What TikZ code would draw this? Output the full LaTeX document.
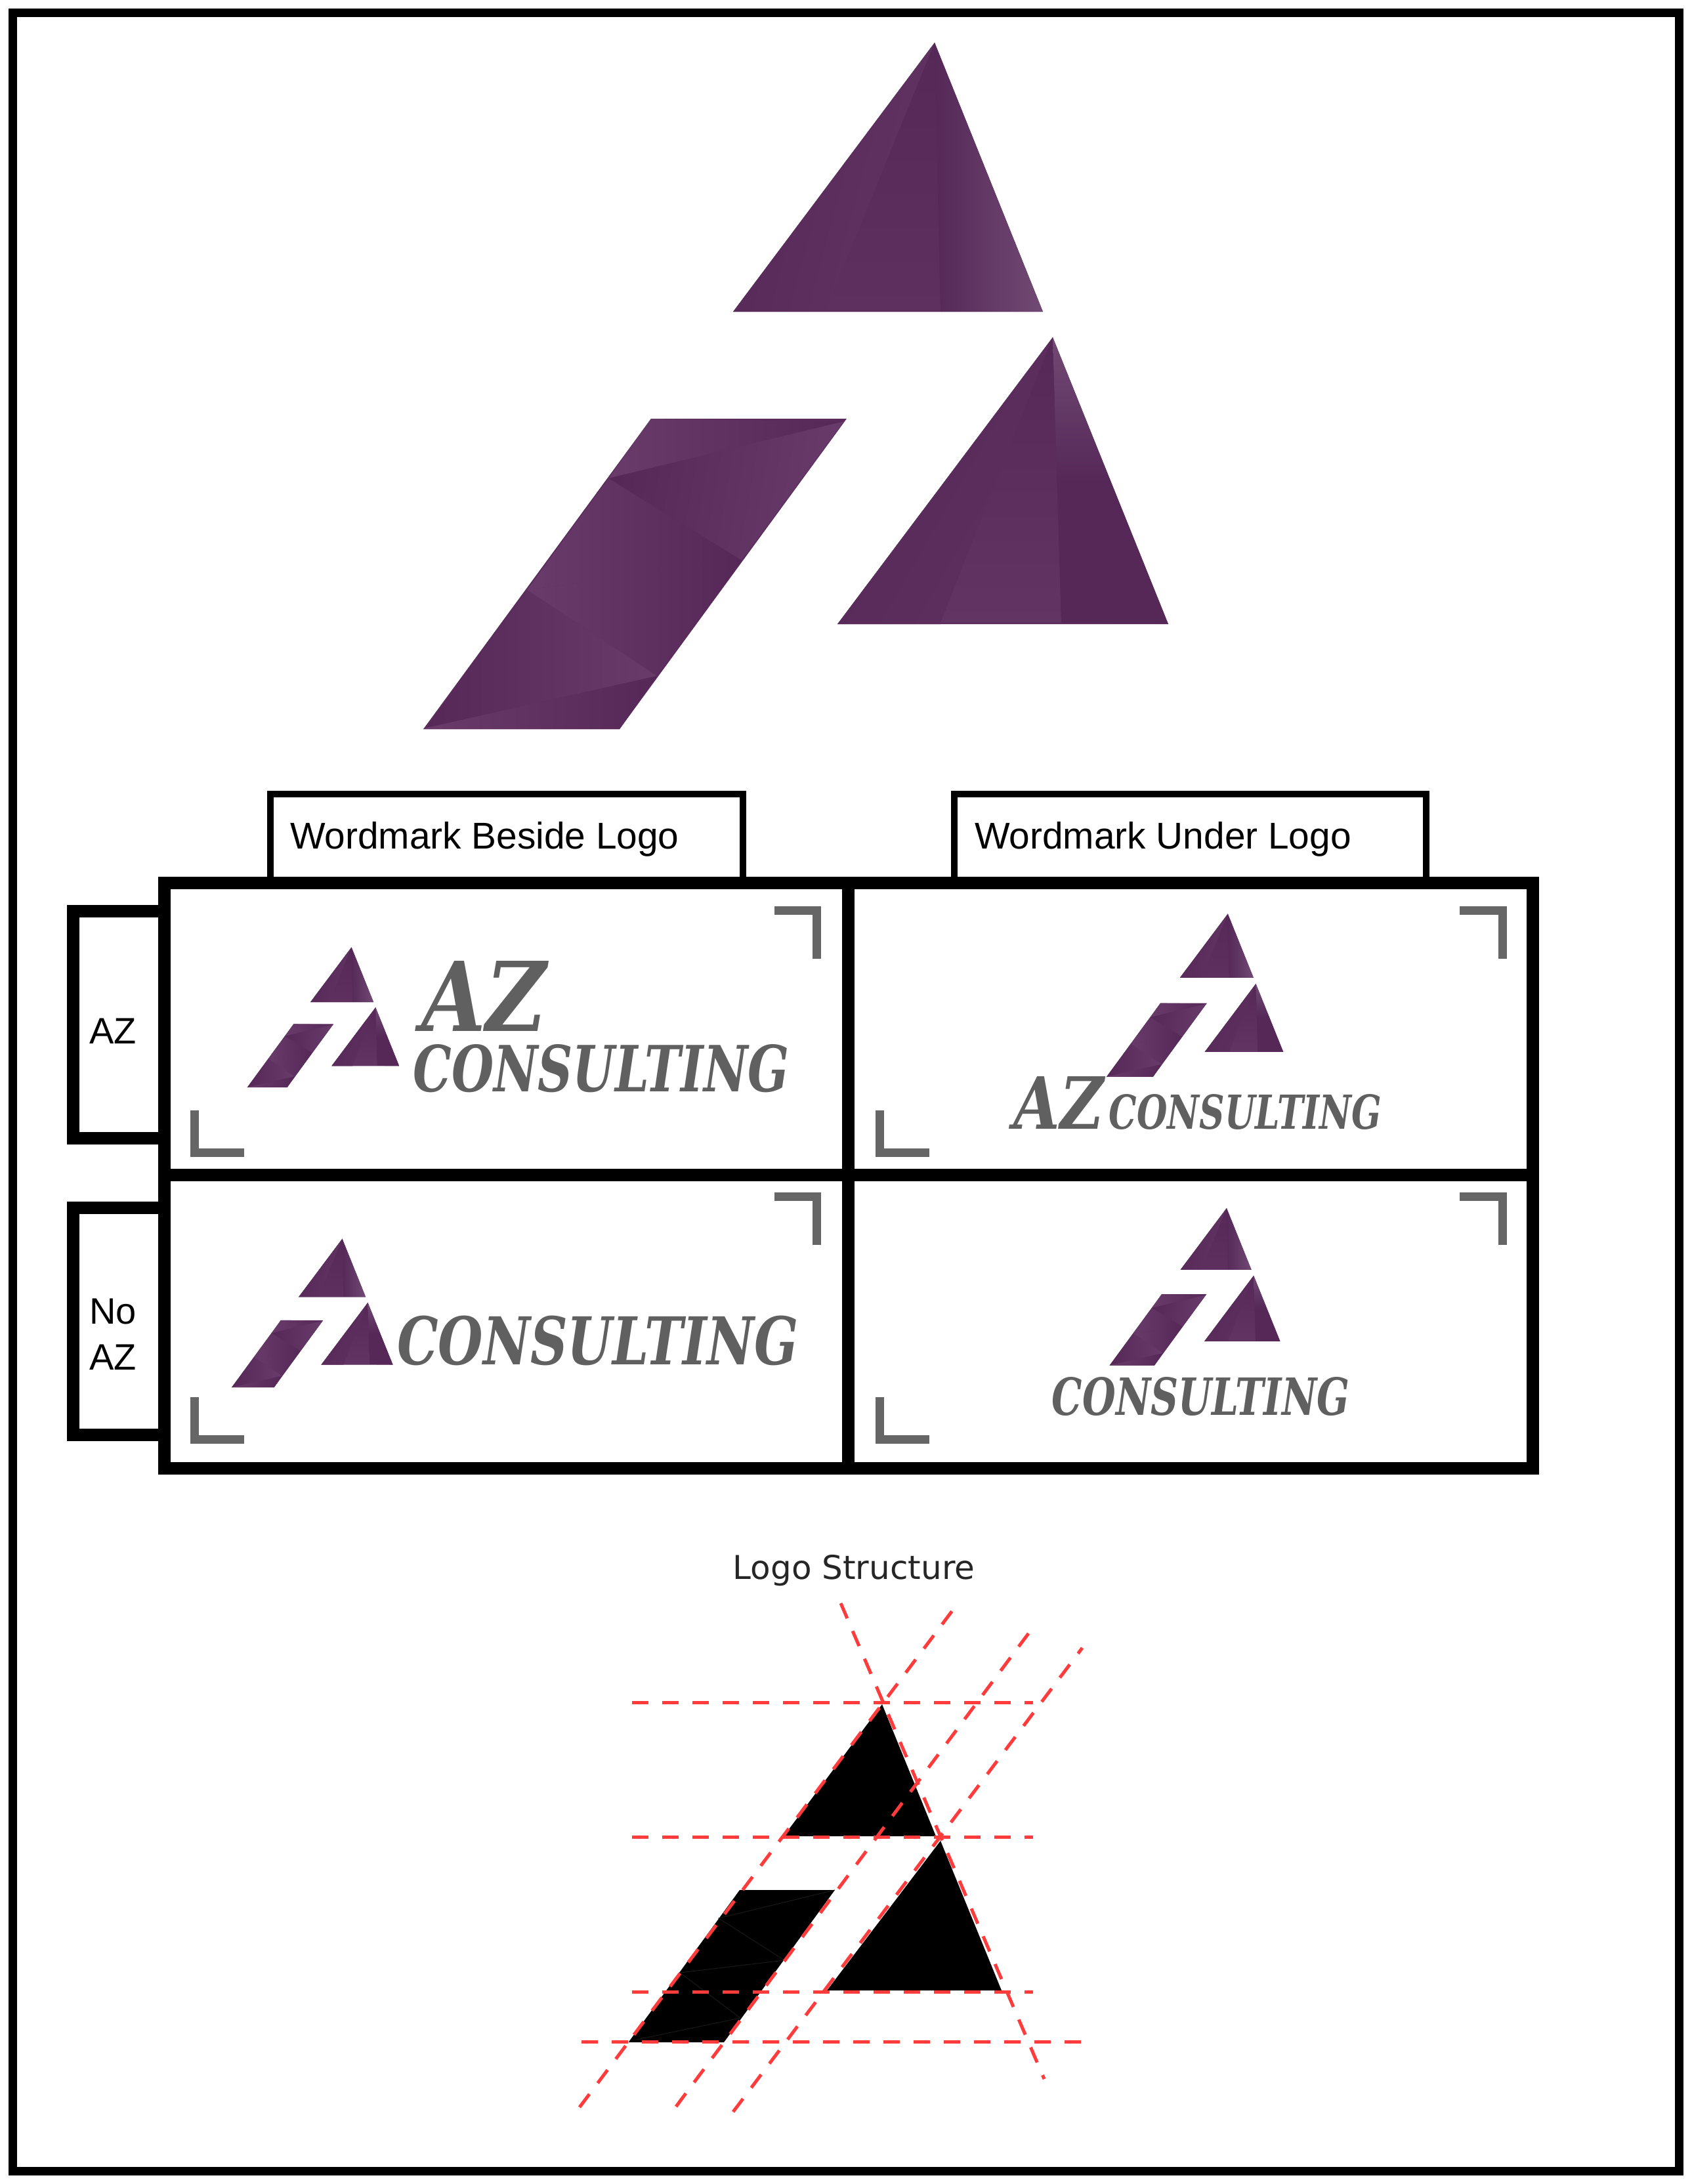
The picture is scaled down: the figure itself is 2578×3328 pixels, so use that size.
\documentclass[tikz,border=0pt]{standalone}
\usepackage{fontspec}
\setmainfont{Liberation Sans}
\newfontfamily\wmfont{DejaVu Serif}
\newfontfamily\titlefont{DejaVu Sans}
\definecolor{pdark}{HTML}{552858}
\definecolor{pbase}{HTML}{5A2B5B}
\definecolor{psoft}{HTML}{5E3060}
\definecolor{pmid}{HTML}{613464}
\definecolor{plight}{HTML}{683B6A}
\definecolor{plighter}{HTML}{714A73}
\definecolor{wmgray}{HTML}{606060}
\definecolor{marksgray}{HTML}{666666}
\definecolor{guide}{HTML}{FF3B3B}
\tikzset{
  x=1pt,y=-1pt,
  frameline/.style={draw=black,line width=13pt,line join=miter},
  tabline/.style={draw=black,line width=10pt},
  gridline/.style={draw=black,line width=19pt},
  labelbox/.style={draw=black,line width=19pt},
  celltext/.style={font=\fontsize{56}{70}\selectfont,inner sep=0pt,text=black,align=center},
  tabtext/.style={font=\fontsize{56.8}{66}\selectfont,inner sep=0pt,text=black,anchor=west},
  cornermark/.style={draw=marksgray,line width=13pt,line join=miter,line cap=butt},
  wordmark/.style={inner sep=0pt,text=wmgray},
  guideline/.style={draw=guide,line width=5pt,dash pattern=on 25pt off 21pt},
  faintline/.style={draw=black!90,line width=1pt},
}
\newcommand{\WM}[3]{\resizebox{#1pt}{#2pt}{\wmfont\bfseries\itshape #3}}
\newcommand{\LogoMark}[3]{%
\begin{scope}[shift={(#1,#2)},scale=#3,shift={(-645,-65)}]
  % top triangle
  \fill[pbase] (1424,65)--(1117,475)--(1589,475)--cycle;
  \shade[left color=pdark,right color=pmid,shading angle=75] (1424,65)--(1117,475)--(1258,475)--cycle;
  \shade[top color=pdark,bottom color=psoft] (1424,65)--(1258,475)--(1433,475)--cycle;
  \shade[left color=pdark,right color=plighter] (1424,65)--(1433,475)--(1589,475)--cycle;
  % right triangle
  \fill[pbase] (1604,514)--(1276,951)--(1780,951)--cycle;
  \shade[left color=pdark,right color=psoft,shading angle=60] (1604,514)--(1276,951)--(1433,951)--cycle;
  \shade[top color=pdark,bottom color=pmid] (1604,514)--(1433,949)--(1617,949)--cycle;
  \shade[top color=plighter,bottom color=pdark,middle color=pdark] (1604,514)--(1617,949)--(1780,951)--cycle;
  % parallelogram
  \fill[pbase] (992,638)--(1290,638)--(944,1111)--(645,1111)--cycle;
  \shade[left color=plight,right color=pdark] (992,638)--(1286,642)--(927,729)--cycle;
  \shade[left color=pdark,right color=plight,shading angle=80] (1286,642)--(1130,854)--(927,729)--cycle;
  \shade[left color=plight,right color=pdark] (927,729)--(1130,854)--(803,899)--cycle;
  \shade[left color=plight,right color=pdark] (803,899)--(1130,854)--(1001,1030)--cycle;
  \shade[left color=pdark,right color=plight] (803,899)--(1001,1030)--(650,1109)--cycle;
  \shade[left color=plight,right color=pdark] (650,1109)--(1001,1030)--(944,1111)--(645,1111)--cycle;
\end{scope}}
\begin{document}
\begin{tikzpicture}
\useasboundingbox (0,0) rectangle (2578,3328);
\fill[white] (0,0) rectangle (2578,3328);
% outer frame
\draw[frameline] (19.5,19.5) rectangle (2558.5,3308);
% large logo
\LogoMark{645}{65}{1}
% tabs
\draw[tabline] (412,1345)--(412,1210)--(1132,1210)--(1132,1345);
\draw[tabline] (1454,1345)--(1454,1210)--(2173,1210)--(2173,1345);
\node[tabtext] (tabbeside) at (442,1279) {Wordmark Beside Logo};
\node[tabtext] (tabunder) at (1485,1279) {Wordmark Under Logo};
% row boxes
\draw[labelbox] (248,1388.5)--(111.5,1388.5)--(111.5,1734)--(248,1734);
\draw[labelbox] (248,1840)--(111.5,1840)--(111.5,2186)--(248,2186);
\node[celltext] (rowaz) at (172,1571) {AZ};
\node[celltext] (rownoaz) at (172,2033) {No\\AZ};
% grid
\draw[gridline] (250.5,1345.5) rectangle (2335,2237);
\draw[gridline] (1292,1345.5)--(1292,2237);
\draw[gridline] (250.5,1790.5)--(2335,1790.5);
% corner marks
\draw[cornermark] (1180,1387.5)--(1244.5,1387.5)--(1244.5,1461);
\draw[cornermark] (296.5,1692)--(296.5,1756.5)--(372,1756.5);
\draw[cornermark] (1180,1823.5)--(1244.5,1823.5)--(1244.5,1897);
\draw[cornermark] (296.5,2129)--(296.5,2193.5)--(372,2193.5);
\draw[cornermark] (2224,1387.5)--(2289.5,1387.5)--(2289.5,1461);
\draw[cornermark] (1340.5,1692)--(1340.5,1756.5)--(1416,1756.5);
\draw[cornermark] (2224,1823.5)--(2289.5,1823.5)--(2289.5,1897);
\draw[cornermark] (1340.5,2129)--(1340.5,2193.5)--(1416,2193.5);
% small logos
\LogoMark{376.6}{1443.5}{0.204}
\LogoMark{1685.7}{1392.5}{0.2375}
\LogoMark{352.8}{1887.7}{0.2165}
\LogoMark{1690.5}{1841}{0.229}
% wordmarks
\node[wordmark] (az1) at (738,1518) {\WM{190}{107}{AZ}};
\node[wordmark] (cons1) at (916,1628) {\WM{573}{72}{CONSULTING}};
\node[wordmark] (az2) at (1613.5,1680) {\WM{137}{80}{AZ}};
\node[wordmark] (cons2) at (1897.5,1694.5) {\WM{415}{53}{CONSULTING}};
\node[wordmark] (cons3) at (911,2043) {\WM{611}{74.5}{CONSULTING}};
\node[wordmark] (cons4) at (1829.5,2128) {\WM{453}{58}{CONSULTING}};
% logo structure
\node[inner sep=0pt,text=black!85,font={\titlefont\fontsize{50}{60}\selectfont}] (structtitle) at (1301,2393) {Logo Structure};
\fill[black] (1344,2597)--(1194,2798)--(1426,2798)--cycle;
\fill[black] (1433,2805)--(1260,3033)--(1526,3033)--cycle;
\fill[black] (1127,2880)--(1272,2880)--(1103,3112)--(957.5,3112)--cycle;
\draw[faintline] (1272,2880)--(1095,2923)--(1195,2987)--(1036,3006)--(1128,3075)--(970,3108);
\coordinate (h1a) at (963,2594); \coordinate (h1b) at (1574,2594);
\coordinate (h2a) at (963,2799); \coordinate (h2b) at (1574,2799);
\coordinate (h3a) at (963,3035); \coordinate (h3b) at (1574,3035);
\coordinate (h4a) at (886,3111.5); \coordinate (h4b) at (1652,3111.5);
\coordinate (d1a) at (883,3211); \coordinate (d1b) at (1453.5,2451);
\coordinate (d2a) at (1030,3210); \coordinate (d2b) at (1570,2485);
\coordinate (d3a) at (1117,3218); \coordinate (d3b) at (1649,2511);
\coordinate (n1a) at (1281,2443); \coordinate (n1b) at (1591,3168);
\draw[guideline] (h1a)--(h1b);
\draw[guideline] (h2a)--(h2b);
\draw[guideline] (h3a)--(h3b);
\draw[guideline] (h4a)--(h4b);
\draw[guideline] (d1a)--(d1b);
\draw[guideline] (d2a)--(d2b);
\draw[guideline] (d3a)--(d3b);
\draw[guideline] (n1a)--(n1b);
\end{tikzpicture}
\end{document}
